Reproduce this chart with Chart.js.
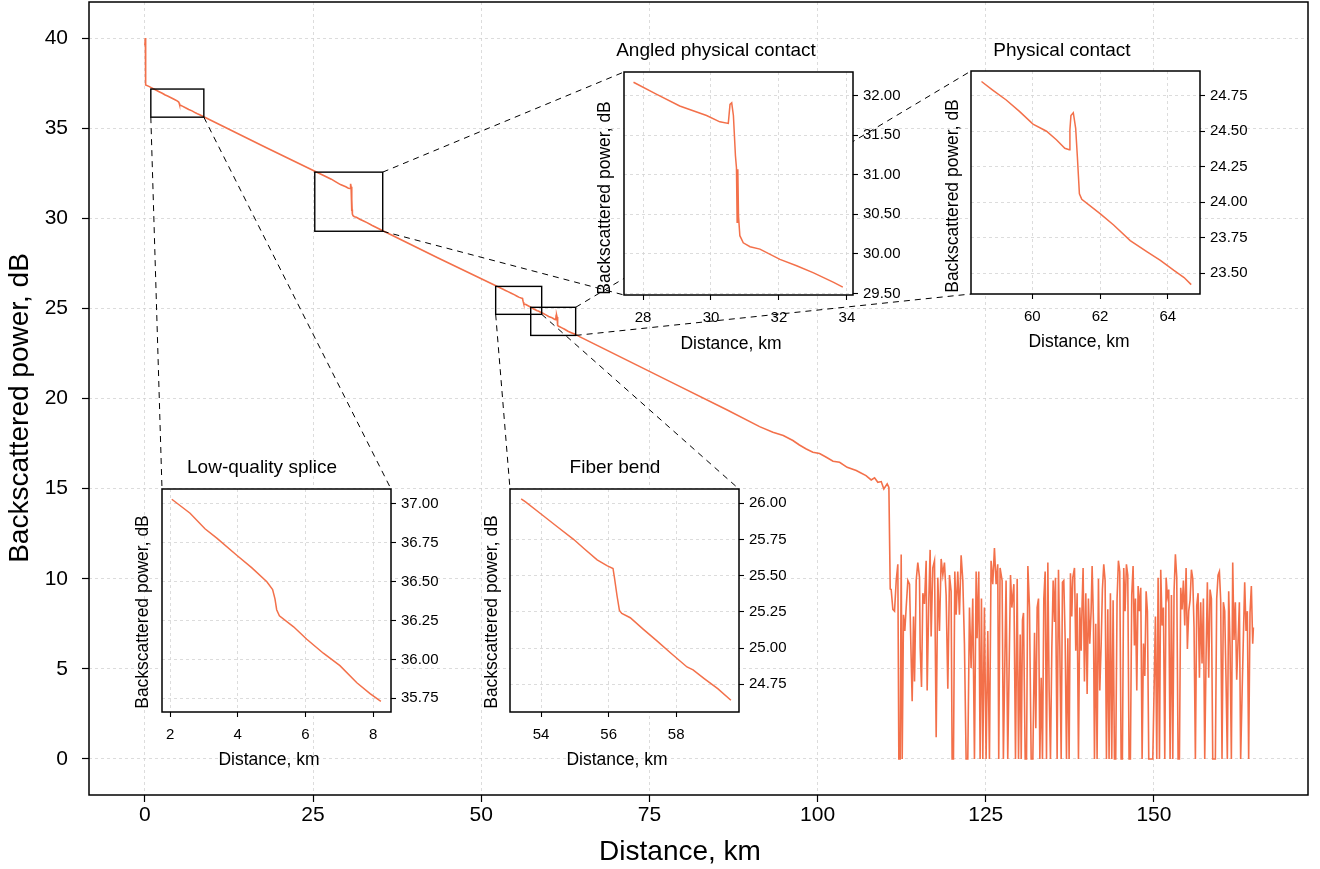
<!DOCTYPE html>
<html>
<head>
<meta charset="utf-8">
<script src="https://cdn.jsdelivr.net/npm/chart.js@4.4.1/dist/chart.umd.min.js"></script>
<style>
  html, body { margin: 0; padding: 0; background: #fff; }
  #wrap { position: relative; width: 1320px; height: 869px; overflow: hidden; }
  canvas { position: absolute; }
</style>
</head>
<body>
<div id="wrap"><canvas id="main" width="1320" height="869" style="left:0;top:0"></canvas></div>
<script>
// OTDR trace (km, dB)
const traceKm = [0.00, 0.08, 0.12, 0.60,
  2.05, 2.59, 3.03, 3.38, 3.97, 4.41, 4.86, 5.03, 5.10, 5.15, 5.23, 5.65, 6.04, 6.53, 7.02, 7.52, 7.91, 8.23,
  18.0,
  27.72, 28.39, 29.08, 29.87, 30.26, 30.51, 30.56, 30.61, 30.66, 30.72, 30.75, 30.77, 30.79, 30.81, 30.85, 30.95, 31.15, 31.44, 32.03, 32.52, 33.02, 33.61, 33.88,
  43.6,
  53.41, 53.54, 53.98, 54.47, 54.97, 55.26, 55.66, 55.95, 56.13, 56.17, 56.25, 56.32, 56.39, 56.64, 57.03, 57.43, 57.82, 58.32,
  58.50, 58.83, 59.23, 59.62, 60.02, 60.42, 60.71, 60.96, 61.09, 61.11, 61.14, 61.21, 61.28, 61.33, 61.39, 61.46, 62.00, 62.40, 62.89, 63.39, 63.78, 64.18, 64.48, 64.69,
  78.0, 86.5, 91.38, 93.36, 94.9, 96.33, 97.3, 98.32, 99.30, 100.3, 101.30, 102.3, 103.27, 104.4, 105.75, 106.24, 107.2, 107.97, 108.47, 108.96, 109.46, 109.85, 110.35, 110.60, 110.80];
const traceDb = [39.6, 40.0, 37.4, 37.32,
  37.03, 36.94, 36.84, 36.78, 36.67, 36.59, 36.50, 36.45, 36.39, 36.32, 36.28, 36.21, 36.13, 36.04, 35.96, 35.85, 35.78, 35.73,
  33.93,
  32.17, 32.02, 31.87, 31.75, 31.67, 31.65, 31.89, 31.91, 31.75, 31.24, 31.09, 30.40, 31.07, 30.48, 30.23, 30.14, 30.09, 30.06, 29.93, 29.85, 29.76, 29.64, 29.58,
  27.8,
  26.03, 26.01, 25.93, 25.84, 25.75, 25.69, 25.61, 25.57, 25.55, 25.49, 25.36, 25.26, 25.24, 25.21, 25.13, 25.05, 24.97, 24.87,
  24.85, 24.79, 24.72, 24.64, 24.55, 24.50, 24.44, 24.38, 24.37, 24.51, 24.61, 24.63, 24.52, 24.32, 24.06, 24.02, 23.92, 23.84, 23.73, 23.65, 23.59, 23.52, 23.47, 23.42,
  20.95, 19.38, 18.44, 18.13, 17.95, 17.67, 17.42, 17.20, 17.02, 16.95, 16.74, 16.52, 16.46, 16.18, 16.00, 15.91, 15.72, 15.48, 15.60, 15.35, 15.39, 14.98, 15.26, 15.07, 9.43];

// noise floor after the fiber end
const tailKm = [110.94, 111.19, 111.44, 111.69, 111.93, 112.08, 112.28, 112.43, 112.58, 112.77, 112.97, 113.17, 113.42, 113.67, 113.91, 114.06, 114.26, 114.41, 114.66, 114.90,
  115.15, 115.25, 115.45, 115.65, 115.89, 116.14, 116.29, 116.54, 116.73, 116.88, 117.13, 117.38, 117.63, 117.87, 118.12, 118.37, 118.62, 118.86, 119.11, 119.36,
  119.61, 119.85, 120.00, 120.20, 120.40, 120.60, 120.84, 121.09, 121.34, 121.59, 121.83, 122.08, 122.33, 122.58, 122.82, 123.07, 123.32, 123.57, 123.71, 123.96,
  124.16, 124.36, 124.56, 124.80, 125.05, 125.30, 125.55, 125.79, 126.04, 126.29, 126.54, 126.78, 126.93, 127.13, 127.43, 127.62, 128.02, 128.27, 128.68, 128.88,
  129.18, 129.42, 129.67, 129.87, 130.12, 130.27, 130.46, 130.61, 130.86, 131.06, 131.26, 131.50, 131.75, 132.00, 132.25, 132.44, 132.64, 132.84, 133.04, 133.24,
  133.43, 133.63, 133.83, 134.03, 134.23, 134.42, 134.62, 134.82, 135.02, 135.22, 135.36, 135.61, 135.81, 136.01, 136.21, 136.40, 136.60, 136.80, 137.00, 137.20,
  137.39, 137.59, 137.79, 137.94, 138.19, 138.38, 138.58, 138.78, 138.98, 139.18, 139.32, 139.47, 139.67, 139.87, 140.07, 140.26, 140.46, 140.66, 140.81, 141.01,
  141.16, 141.35, 141.55, 141.75, 141.95, 142.15, 142.34, 142.54, 142.74, 142.94, 143.14, 143.33, 143.53, 143.73, 143.93, 144.13, 144.32, 144.52, 144.72, 144.92,
  145.12, 145.31, 145.51, 145.71, 145.91, 146.11, 146.30, 146.50, 146.70, 146.90, 147.10, 147.25, 147.45, 147.65, 147.85, 148.04, 148.24, 148.44, 148.64, 148.84,
  149.03, 149.23, 149.83, 150.22, 150.42, 150.62, 150.82, 151.01, 151.21, 151.41, 151.61, 151.81, 152.00, 152.20, 152.40, 152.60, 152.80, 152.99, 153.19, 153.39,
  153.59, 153.79, 153.98, 154.18, 154.38, 154.58, 154.78, 154.97, 155.17, 155.37, 155.57, 155.77, 155.96, 156.16, 156.36, 156.56, 156.76, 156.95, 157.15, 157.35,
  157.55, 157.75, 157.94, 158.14, 158.34, 158.54, 158.74, 159.13, 159.33, 159.53, 159.73, 159.92, 160.12, 160.32, 160.52, 160.72, 160.91, 161.11, 161.31, 161.51,
  161.71, 161.90, 162.10, 162.30, 162.50, 162.70, 162.89, 163.09, 163.29, 163.49, 163.69, 163.88, 164.08, 164.28, 164.48, 164.68, 164.78];
const tailDb = [9.4, 8.3, 8.2, 9.9, 10.8, 0, 0, 11.35, 0, 8.0, 7.1, 8.4, 9.9, 9.7, 5.6, 3.2, 7.9, 4.3, 9.9, 10.9,
  10.06, 6.2, 4.0, 9.2, 8.6, 11.0, 3.8, 8.9, 11.6, 6.8, 10.6, 11.0, 1.2, 10.06, 7.1, 11.1, 10.2, 10.9, 9.1, 3.9,
  10.2, 9.3, 0, 0, 10.4, 8.0, 10.4, 8.0, 11.3, 9.9, 6.4, 0, 0, 8.4, 5.05, 8.9, 0, 10.4, 6.7, 10.4,
  0, 8.9, 0, 8.4, 0, 7.1, 0, 11.0, 9.7, 11.7, 9.7, 10.8, 0, 10.6, 9.9, 0, 9.9, 0, 10.2, 8.4,
  9.7, 0, 10.0, 0, 6.9, 0, 7.7, 8.1, 0, 0, 10.7, 8.4, 0, 0, 7.0, 1.7, 8.4, 8.9, 0, 4.5,
  0, 8.9, 10.4, 0, 10.9, 3.8, 0, 6.1, 9.9, 7.6, 10.06, 0, 10.5, 6.1, 0, 9.8, 9.9, 6.7, 0, 6.7,
  0, 10.3, 7.9, 10.06, 10.6, 6.0, 9.2, 0, 8.4, 6.0, 8.6, 10.6, 4.3, 9.2, 3.6, 8.9, 6.4, 8.2, 10.7, 7.6,
  0, 7.5, 0, 10.0, 3.8, 6.3, 9.4, 10.8, 9.9, 0, 8.3, 0, 9.2, 0, 8.8, 0, 0, 8.9, 11.0, 10.4,
  0, 0, 10.6, 8.2, 10.8, 10.2, 0, 0, 9.1, 10.7, 6.3, 8.9, 3.8, 9.6, 8.2, 9.5, 0, 6.4, 4.6, 9.3,
  8.2, 0, 0, 7.9, 0, 10.06, 0, 10.5, 7.4, 8.4, 0, 10.06, 9.0, 9.4, 0, 9.1, 0, 9.3, 11.35, 10.06,
  0, 0, 9.5, 8.3, 9.9, 7.4, 10.6, 6.1, 8.2, 8.8, 10.5, 10.0, 7.3, 0, 8.5, 9.2, 4.5, 8.7, 5.3, 8.9,
  0, 5.7, 9.8, 4.5, 9.4, 8.9, 0, 0, 8.9, 10.2, 10.4, 8.8, 0, 8.7, 8.2, 4.3, 0, 9.3, 6.3, 0,
  10.9, 6.6, 8.7, 4.4, 6.5, 8.7, 0, 3.4, 6.7, 9.8, 7.1, 8.2, 0, 8.1, 9.6, 6.4, 7.3];

const mainXTicks = [0, 25, 50, 75, 100, 125, 150];
const mainYTicks = [0, 5, 10, 15, 20, 25, 30, 35, 40];

// zoomed events
const insetTitles = ["Low-quality splice", "Angled physical contact", "Fiber bend", "Physical contact"];
const insetKmRange = [[2.0, 8.3], [27.7, 33.9], [53.4, 59.65], [58.45, 64.7]];
const insetXLimits = [[1.76, 8.53], [27.44, 34.18], [53.08, 59.86], [58.19, 64.95]];
const insetYLimits = [[35.662, 37.096], [29.48, 32.30], [24.559, 26.099], [23.354, 24.924]];
const insetXTicks = [[2, 4, 6, 8], [28, 30, 32, 34], [54, 56, 58], [60, 62, 64]];
const insetYTicks = [[35.75, 36.0, 36.25, 36.5, 36.75, 37.0], [29.5, 30.0, 30.5, 31.0, 31.5, 32.0],
  [24.75, 25.0, 25.25, 25.5, 25.75, 26.0], [23.5, 23.75, 24.0, 24.25, 24.5, 24.75]];
// marked regions on the main axes [x0, x1], [y0, y1]
const markKm = [[0.89, 8.77], [25.26, 35.36], [52.15, 58.99], [57.36, 64.04]];
const markDb = [[35.61, 37.17], [29.28, 32.56], [24.67, 26.22], [23.5, 25.06]];

// layout of the inset boxes on the page
const insetBoxes = [
  {x: 162, y: 489, w: 229, h: 223, title: [262, 468], xlab: [269, 760], ylab: [143, 612]},
  {x: 624, y: 72, w: 229, h: 223, title: [716, 51], xlab: [731, 344], ylab: [605, 198]},
  {x: 510, y: 489, w: 229, h: 223, title: [615, 468], xlab: [617, 760], ylab: [492, 612]},
  {x: 971, y: 71, w: 229, h: 223, title: [1062, 51], xlab: [1079, 342], ylab: [953, 196]}
];
// which rect corner goes to which inset corner
const links = [
  [['l', 'b'], ['l', 't']], [['r', 'b'], ['r', 't']],
  [['r', 't'], ['l', 't']], [['r', 'b'], ['l', 'b']],
  [['l', 'b'], ['l', 't']], [['r', 'b'], ['r', 't']],
  [['r', 't'], ['l', 't']], [['r', 'b'], ['l', 'b']]
];

const FONT = "'Liberation Sans', Arial, Helvetica, sans-serif";
const LINE = '#f3704a';
const GRID = '#d4d4d4';

const allKm = traceKm.concat(tailKm);
const allDb = traceDb.concat(tailDb);
const points = allKm.map((x, i) => ({x: x, y: allDb[i]}));

function fixedTicks(values) {
  return function (scale) { scale.ticks = values.map(v => ({value: v})); };
}

// fixed axis thickness, no extra label padding
function fixSize(prop, size) {
  return function (s) {
    s[prop] = size;
    s.paddingTop = 0; s.paddingBottom = 0; s.paddingLeft = 0; s.paddingRight = 0;
  };
}

function text(ctx, str, x, y, size, rot) {
  ctx.save();
  ctx.translate(x, y);
  if (rot) ctx.rotate(-Math.PI / 2);
  ctx.font = size + 'px ' + FONT;
  ctx.fillStyle = '#000';
  ctx.textAlign = 'center';
  ctx.textBaseline = 'middle';
  ctx.fillText(str, 0, 0);
  ctx.restore();
}

const mainDeco = {
  id: 'mainDeco',
  afterDraw(chart) {
    const ctx = chart.ctx, a = chart.chartArea;
    const xs = chart.scales.x, ys = chart.scales.y;
    ctx.save();
    ctx.strokeStyle = '#000';
    ctx.lineWidth = 1.5;
    ctx.strokeRect(a.left, a.top, a.right - a.left, a.bottom - a.top);
    // marked rectangles
    ctx.lineWidth = 1.4;
    markKm.forEach((k, i) => {
      const x0 = xs.getPixelForValue(k[0]), x1 = xs.getPixelForValue(k[1]);
      const y0 = ys.getPixelForValue(markDb[i][1]), y1 = ys.getPixelForValue(markDb[i][0]);
      ctx.strokeRect(x0, y0, x1 - x0, y1 - y0);
    });
    // dashed connectors
    ctx.lineWidth = 1;
    ctx.setLineDash([6, 5]);
    links.forEach((ln, j) => {
      const i = Math.floor(j / 2);
      const px = xs.getPixelForValue(ln[0][0] === 'l' ? markKm[i][0] : markKm[i][1]);
      const py = ys.getPixelForValue(ln[0][1] === 't' ? markDb[i][1] : markDb[i][0]);
      const b = insetBoxes[i];
      const qx = ln[1][0] === 'l' ? b.x : b.x + b.w;
      const qy = ln[1][1] === 't' ? b.y : b.y + b.h;
      ctx.beginPath();
      ctx.moveTo(px, py);
      ctx.lineTo(qx, qy);
      ctx.stroke();
    });
    ctx.restore();
    text(ctx, 'Distance, km', 680, 852, 28, false);
    text(ctx, 'Backscattered power, dB', 20, 408, 28, true);
  }
};

new Chart(document.getElementById('main'), {
  type: 'line',
  data: {datasets: [{data: points, borderColor: LINE, borderWidth: 1.6, pointRadius: 0, tension: 0}]},
  options: {
    responsive: false, animation: false, devicePixelRatio: 1,
    layout: {padding: {top: 2, right: 12, left: 0, bottom: 0}},
    plugins: {legend: {display: false}, tooltip: {enabled: false}},
    scales: {
      x: {
        type: 'linear', min: -8.3, max: 172.9,
        afterBuildTicks: fixedTicks(mainXTicks),
        afterFit: fixSize('height', 74),
        grid: {color: GRID, lineWidth: 0.8, tickColor: '#000', tickLength: 7, tickWidth: 1.2},
        border: {display: false, dash: [3, 3]},
        ticks: {font: {family: FONT, size: 21}, color: '#000', padding: 1, maxRotation: 0, autoSkip: false}
      },
      y: {
        type: 'linear', min: -2, max: 42,
        afterBuildTicks: fixedTicks(mainYTicks),
        afterFit: fixSize('width', 89),
        grid: {color: GRID, lineWidth: 0.8, tickColor: '#000', tickLength: 7, tickWidth: 1.2},
        border: {display: false, dash: [3, 3]},
        ticks: {font: {family: FONT, size: 21}, color: '#000', padding: 14, autoSkip: false}
      }
    }
  },
  plugins: [mainDeco]
});

function makeInset(i) {
  const b = insetBoxes[i];
  const padL = 50, padT = 40, padR = 80, padB = 70;
  const c = document.createElement('canvas');
  c.width = b.w + padL + padR;
  c.height = b.h + padT + padB;
  const ox = b.x - padL, oy = b.y - padT;
  c.style.left = ox + 'px';
  c.style.top = oy + 'px';
  document.getElementById('wrap').appendChild(c);
  const r = insetKmRange[i];
  const pts = points.filter(p => p.x >= r[0] && p.x <= r[1]);
  const deco = {
    id: 'insetDeco' + i,
    beforeDraw(chart) {
      const a = chart.chartArea, ctx = chart.ctx;
      ctx.save();
      ctx.fillStyle = '#fff';
      ctx.fillRect(a.left, a.top, a.right - a.left, a.bottom - a.top);
      ctx.restore();
    },
    afterDraw(chart) {
      const a = chart.chartArea, ctx = chart.ctx;
      ctx.save();
      ctx.strokeStyle = '#000';
      ctx.lineWidth = 1.5;
      ctx.strokeRect(a.left, a.top, a.right - a.left, a.bottom - a.top);
      ctx.restore();
      text(ctx, insetTitles[i], b.title[0] - ox, b.title[1] - oy, 19, false);
      text(ctx, 'Distance, km', b.xlab[0] - ox, b.xlab[1] - oy, 17.5, false);
      text(ctx, 'Backscattered power, dB', b.ylab[0] - ox, b.ylab[1] - oy, 17.5, true);
    }
  };
  new Chart(c, {
    type: 'line',
    data: {datasets: [{data: pts, borderColor: LINE, borderWidth: 1.5, pointRadius: 0, tension: 0}]},
    options: {
      responsive: false, animation: false, devicePixelRatio: 1,
      layout: {padding: {left: padL, top: padT, right: 0, bottom: 0}},
      plugins: {legend: {display: false}, tooltip: {enabled: false}},
      scales: {
        x: {
          type: 'linear', min: insetXLimits[i][0], max: insetXLimits[i][1],
          afterBuildTicks: fixedTicks(insetXTicks[i]),
          afterFit: fixSize('height', padB),
          grid: {color: GRID, lineWidth: 0.8, tickColor: '#000', tickLength: 5, tickWidth: 1.1},
          border: {display: false, dash: [3, 3]},
          ticks: {font: {family: FONT, size: 15}, color: '#000', padding: 9, maxRotation: 0, autoSkip: false}
        },
        y: {
          type: 'linear', position: 'right', min: insetYLimits[i][0], max: insetYLimits[i][1],
          afterBuildTicks: fixedTicks(insetYTicks[i]),
          afterFit: fixSize('width', padR),
          grid: {color: GRID, lineWidth: 0.8, tickColor: '#000', tickLength: 5, tickWidth: 1.1},
          border: {display: false, dash: [3, 3]},
          ticks: {font: {family: FONT, size: 15}, color: '#000', padding: 5, autoSkip: false,
            callback: v => v.toFixed(2)}
        }
      }
    },
    plugins: [deco]
  });
}

insetBoxes.forEach((b, i) => makeInset(i));
</script>
</body>
</html>
